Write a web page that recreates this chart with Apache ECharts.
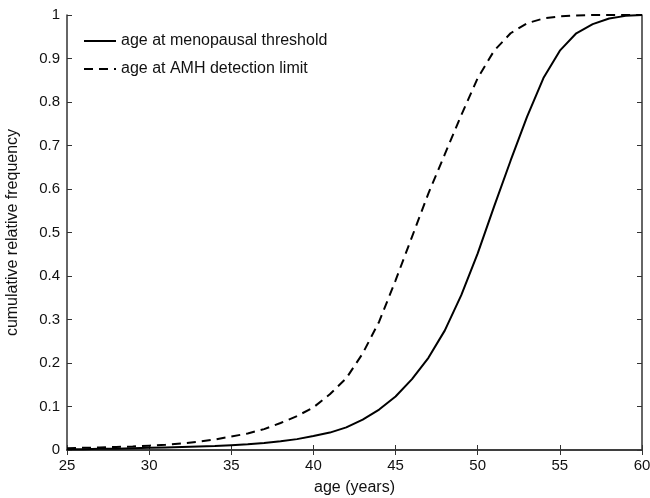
<!DOCTYPE html>
<html>
<head>
<meta charset="utf-8">
<script src="https://cdn.jsdelivr.net/npm/echarts@6/dist/echarts.min.js"></script>
<style>
html,body{margin:0;padding:0;background:#fff;}
#chart{width:650px;height:498px;}
</style>
</head>
<body>
<div id="chart"></div>
<script>
const ages = [25,26,27,28,29,30,31,32,33,34,35,36,37,38,39,40,41,42,43,44,45,46,47,48,49,50,51,52,53,54,55,56,57,58,59,60];
const menopausal = [0.002,0.002,0.003,0.003,0.004,0.005,0.006,0.007,0.008,0.009,0.011,0.013,0.016,0.020,0.025,0.032,0.040,0.052,0.070,0.093,0.123,0.163,0.212,0.275,0.356,0.452,0.560,0.665,0.766,0.855,0.918,0.958,0.979,0.992,0.998,1.0];
const amhLimit = [0.004,0.005,0.006,0.007,0.008,0.010,0.012,0.015,0.019,0.024,0.031,0.038,0.048,0.062,0.078,0.098,0.128,0.165,0.222,0.295,0.390,0.490,0.590,0.680,0.770,0.855,0.918,0.958,0.981,0.992,0.997,0.999,1.0,1.0,1.0,1.0];
const seriesNames = ['age at menopausal threshold','age at AMH detection limit'];
const xTicks = [25,30,35,40,45,50,55,60];
const yTicks = [0,0.1,0.2,0.3,0.4,0.5,0.6,0.7,0.8,0.9,1];

const FONT = 'Liberation Sans';
const pairs = arr => ages.map((a,i)=>[a,arr[i]]);
const chart = echarts.init(document.getElementById('chart'));
const axisLine = {show:true, lineStyle:{color:'#333', width:1.5}};
const tick = {show:true, inside:true, length:5, lineStyle:{color:'#333'}};
chart.setOption({
  backgroundColor:'#fff',
  animation:false,
  textStyle:{fontFamily:FONT},
  grid:{left:67, right:8, top:15, bottom:48, containLabel:false, outerBoundsMode:'none'},
  legend:{
    orient:'vertical', left:78, top:28, itemWidth:32, itemHeight:12, itemGap:12,
    itemStyle:{opacity:0},
    textStyle:{fontSize:16, color:'#111', fontFamily:FONT},
    data:seriesNames
  },
  xAxis:[
    {type:'value', min:25, max:60, interval:5, position:'bottom',
     name:'age (years)', nameLocation:'middle', nameGap:30,
     nameTextStyle:{fontSize:16, color:'#111', fontFamily:FONT},
     axisLine:axisLine, axisTick:tick, splitLine:{show:false},
     axisLabel:{fontSize:15, color:'#111', margin:8, fontFamily:FONT,
       formatter:v=>xTicks.includes(v)?String(v):''}},
    {type:'value', min:25, max:60, interval:5, position:'top',
     axisLine:axisLine, axisTick:tick, splitLine:{show:false}, axisLabel:{show:false}}
  ],
  yAxis:[
    {type:'value', min:0, max:1, interval:0.1, position:'left',
     name:'cumulative relative frequency', nameLocation:'middle', nameGap:46,
     nameTextStyle:{fontSize:16, color:'#111', fontFamily:FONT},
     axisLine:axisLine, axisTick:tick, splitLine:{show:false},
     axisLabel:{fontSize:15, color:'#111', margin:7, fontFamily:FONT,
       formatter:v=>{const t=yTicks.find(y=>Math.abs(y-v)<1e-9); return t===undefined?'':String(t);}}},
    {type:'value', min:0, max:1, interval:0.1, position:'right',
     axisLine:axisLine, axisTick:tick, splitLine:{show:false}, axisLabel:{show:false}}
  ],
  series:[
    {name:seriesNames[0], type:'line', data:pairs(menopausal), symbol:'none', smooth:false,
     lineStyle:{color:'#000', width:2, type:'solid'}, itemStyle:{color:'#000'}},
    {name:seriesNames[1], type:'line', data:pairs(amhLimit), symbol:'none', smooth:false,
     lineStyle:{color:'#000', width:2, type:[9,6]}, itemStyle:{color:'#000'}}
  ]
});
</script>
</body>
</html>
